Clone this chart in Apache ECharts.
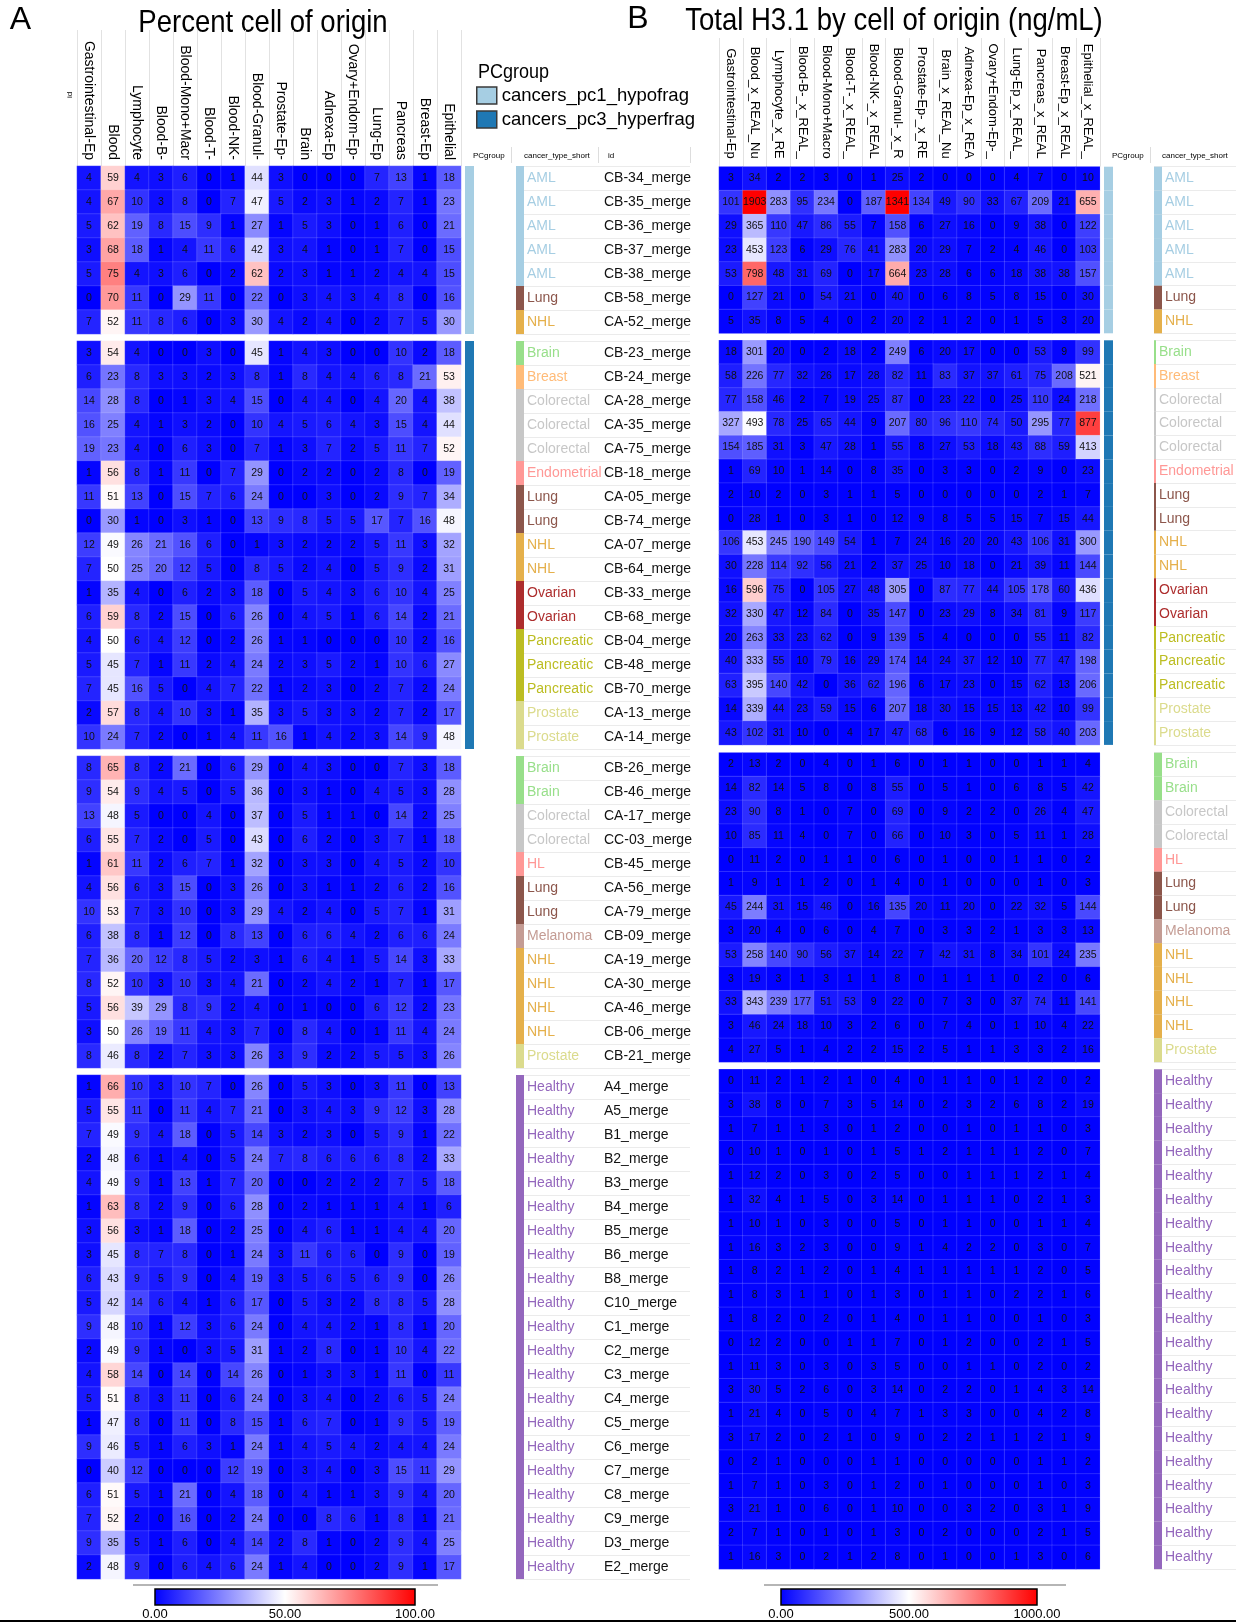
<!DOCTYPE html>
<html>
<head>
<meta charset="utf-8">
<title>Cell of origin heatmaps</title>
<script src="https://cdn.jsdelivr.net/npm/echarts/dist/echarts.min.js"></script>
<style>
  html, body { margin: 0; padding: 0; background: #ffffff; }
  #chart { width: 1236px; height: 1623px; }
</style>
</head>
<body>
<div id="chart"></div>
<script>
// ---------- column headers ----------
const pctColumns = ['Gastrointestinal-Ep', 'Blood', 'Lymphocyte', 'Blood-B-', 'Blood-Mono+Macr', 'Blood-T-',
  'Blood-NK-', 'Blood-Granul-', 'Prostate-Ep-', 'Brain', 'Adnexa-Ep', 'Ovary+Endom-Ep-', 'Lung-Ep',
  'Pancreas', 'Breast-Ep', 'Epithelial'];
const ngColumns = ['Gastrointestinal-Ep_', 'Blood_x_REAL_NuQ', 'Lymphocyte_x_REA', 'Blood-B-_x_REAL_I',
  'Blood-Mono+Macro', 'Blood-T-_x_REAL_N', 'Blood-NK-_x_REAL', 'Blood-Granul-_x_RE', 'Prostate-Ep-_x_REA',
  'Brain_x_REAL_NuQ', 'Adnexa-Ep_x_REAL', 'Ovary+Endom-Ep-_', 'Lung-Ep_x_REAL_N', 'Pancreas_x_REAL_',
  'Breast-Ep_x_REAL_', 'Epithelial_x_REAL_I'];

// ---------- sample ids and cancer types, one list per block ----------
const idsG1 = ['CB-34_merge', 'CB-35_merge', 'CB-36_merge', 'CB-37_merge', 'CB-38_merge', 'CB-58_merge', 'CA-52_merge'];
const typesG1 = ['AML', 'AML', 'AML', 'AML', 'AML', 'Lung', 'NHL'];

const idsG2 = ['CB-23_merge', 'CB-24_merge', 'CA-28_merge', 'CA-35_merge', 'CA-75_merge', 'CB-18_merge',
  'CA-05_merge', 'CB-74_merge', 'CA-07_merge', 'CB-64_merge', 'CB-33_merge', 'CB-68_merge', 'CB-04_merge',
  'CB-48_merge', 'CB-70_merge', 'CA-13_merge', 'CA-14_merge'];
const typesG2 = ['Brain', 'Breast', 'Colorectal', 'Colorectal', 'Colorectal', 'Endometrial', 'Lung', 'Lung',
  'NHL', 'NHL', 'Ovarian', 'Ovarian', 'Pancreatic', 'Pancreatic', 'Pancreatic', 'Prostate', 'Prostate'];

const idsG3 = ['CB-26_merge', 'CB-46_merge', 'CA-17_merge', 'CC-03_merge', 'CB-45_merge', 'CA-56_merge',
  'CA-79_merge', 'CB-09_merge', 'CA-19_merge', 'CA-30_merge', 'CA-46_merge', 'CB-06_merge', 'CB-21_merge'];
const typesG3 = ['Brain', 'Brain', 'Colorectal', 'Colorectal', 'HL', 'Lung', 'Lung', 'Melanoma', 'NHL', 'NHL',
  'NHL', 'NHL', 'Prostate'];

const idsG4 = ['A4_merge', 'A5_merge', 'B1_merge', 'B2_merge', 'B3_merge', 'B4_merge', 'B5_merge', 'B6_merge',
  'B8_merge', 'C10_merge', 'C1_merge', 'C2_merge', 'C3_merge', 'C4_merge', 'C5_merge', 'C6_merge', 'C7_merge',
  'C8_merge', 'C9_merge', 'D3_merge', 'E2_merge'];
const typesG4 = idsG4.map(() => 'Healthy');

// ---------- percent cell of origin ----------
const pctG1 = [
  [4, 59, 4, 3, 6, 0, 1, 44, 3, 0, 0, 0, 7, 13, 1, 18],
  [4, 67, 10, 3, 8, 0, 7, 47, 5, 2, 3, 1, 2, 7, 1, 23],
  [5, 62, 19, 8, 15, 9, 1, 27, 1, 5, 3, 0, 1, 6, 0, 21],
  [3, 68, 18, 1, 4, 11, 6, 42, 3, 4, 1, 0, 1, 7, 0, 15],
  [5, 75, 4, 3, 6, 0, 2, 62, 2, 3, 1, 1, 2, 4, 4, 15],
  [0, 70, 11, 0, 29, 11, 0, 22, 0, 3, 4, 3, 4, 8, 0, 16],
  [7, 52, 11, 8, 6, 0, 3, 30, 4, 2, 4, 0, 2, 7, 5, 30]
];
const pctG2 = [
  [3, 54, 4, 0, 0, 3, 0, 45, 1, 4, 3, 0, 0, 10, 2, 18],
  [6, 23, 8, 3, 3, 2, 3, 8, 1, 8, 4, 4, 6, 8, 21, 53],
  [14, 28, 8, 0, 1, 3, 4, 15, 0, 4, 4, 0, 4, 20, 4, 38],
  [16, 25, 4, 1, 3, 2, 0, 10, 4, 5, 6, 4, 3, 15, 4, 44],
  [19, 23, 4, 0, 6, 3, 0, 7, 1, 3, 7, 2, 5, 11, 7, 52],
  [1, 56, 8, 1, 11, 0, 7, 29, 0, 2, 2, 0, 2, 8, 0, 19],
  [11, 51, 13, 0, 15, 7, 6, 24, 0, 0, 3, 0, 2, 9, 7, 34],
  [0, 30, 1, 0, 3, 1, 0, 13, 9, 8, 5, 5, 17, 7, 16, 48],
  [12, 49, 26, 21, 16, 6, 0, 1, 3, 2, 2, 2, 5, 11, 3, 32],
  [7, 50, 25, 20, 12, 5, 0, 8, 5, 2, 4, 0, 5, 9, 2, 31],
  [1, 35, 4, 0, 6, 2, 3, 18, 0, 5, 4, 3, 6, 10, 4, 25],
  [6, 59, 8, 2, 15, 0, 6, 26, 0, 4, 5, 1, 6, 14, 2, 21],
  [4, 50, 6, 4, 12, 0, 2, 26, 1, 1, 0, 0, 0, 10, 2, 16],
  [5, 45, 7, 1, 11, 2, 4, 24, 2, 3, 5, 2, 1, 10, 6, 27],
  [7, 45, 16, 5, 0, 4, 7, 22, 1, 2, 3, 0, 2, 7, 2, 24],
  [2, 57, 8, 4, 10, 3, 1, 35, 3, 5, 3, 3, 2, 7, 2, 17],
  [10, 24, 7, 2, 0, 1, 4, 11, 16, 1, 4, 2, 3, 14, 9, 48]
];
const pctG3 = [
  [8, 65, 8, 2, 21, 0, 6, 29, 0, 4, 3, 0, 0, 7, 3, 18],
  [9, 54, 9, 4, 5, 0, 5, 36, 0, 3, 1, 0, 4, 5, 3, 28],
  [13, 48, 5, 0, 0, 4, 0, 37, 0, 5, 1, 1, 0, 14, 2, 25],
  [6, 55, 7, 2, 0, 5, 0, 43, 0, 6, 2, 0, 3, 7, 1, 18],
  [1, 61, 11, 2, 6, 7, 1, 32, 0, 3, 3, 0, 4, 5, 2, 10],
  [4, 56, 6, 3, 15, 0, 3, 26, 0, 3, 1, 1, 2, 6, 2, 16],
  [10, 53, 7, 3, 10, 0, 3, 29, 4, 2, 4, 0, 5, 7, 1, 31],
  [6, 38, 8, 1, 12, 0, 8, 13, 0, 6, 6, 4, 2, 6, 6, 24],
  [7, 36, 20, 12, 8, 5, 2, 3, 1, 6, 4, 1, 5, 14, 3, 33],
  [8, 52, 10, 3, 10, 3, 4, 21, 0, 2, 4, 2, 1, 7, 1, 17],
  [5, 56, 39, 29, 8, 9, 2, 4, 0, 1, 0, 0, 6, 12, 2, 23],
  [3, 50, 26, 19, 11, 4, 3, 7, 0, 8, 4, 0, 1, 11, 4, 24],
  [8, 46, 8, 2, 7, 3, 3, 26, 3, 9, 2, 2, 5, 5, 3, 26]
];
const pctG4 = [
  [1, 66, 10, 3, 10, 7, 0, 26, 0, 5, 3, 0, 3, 11, 0, 13],
  [5, 55, 11, 0, 11, 4, 7, 21, 0, 3, 4, 3, 9, 12, 3, 28],
  [7, 49, 9, 4, 18, 0, 5, 14, 3, 2, 3, 0, 5, 9, 1, 22],
  [2, 48, 6, 1, 4, 0, 5, 24, 7, 8, 6, 6, 6, 8, 2, 33],
  [4, 49, 9, 1, 13, 1, 7, 20, 0, 0, 2, 2, 2, 7, 5, 18],
  [1, 63, 8, 2, 9, 0, 6, 28, 0, 2, 1, 1, 1, 4, 1, 6],
  [3, 56, 3, 1, 18, 0, 2, 25, 0, 4, 6, 1, 1, 4, 4, 20],
  [3, 45, 8, 7, 8, 0, 1, 24, 3, 11, 6, 6, 0, 9, 0, 19],
  [6, 43, 9, 5, 9, 0, 4, 19, 3, 5, 6, 5, 6, 9, 0, 26],
  [5, 42, 14, 6, 4, 1, 6, 17, 0, 5, 3, 2, 8, 8, 5, 28],
  [9, 48, 10, 1, 12, 3, 6, 24, 0, 4, 4, 2, 1, 8, 1, 20],
  [2, 49, 9, 1, 0, 3, 5, 31, 1, 2, 8, 0, 1, 10, 4, 22],
  [4, 58, 14, 0, 14, 0, 14, 26, 0, 1, 3, 3, 1, 11, 0, 11],
  [5, 51, 8, 3, 11, 0, 6, 24, 0, 3, 4, 0, 2, 6, 5, 24],
  [1, 47, 8, 0, 11, 0, 8, 15, 1, 6, 7, 0, 1, 9, 5, 19],
  [9, 46, 5, 1, 6, 3, 1, 24, 1, 4, 5, 4, 2, 4, 4, 24],
  [0, 40, 12, 0, 0, 0, 12, 19, 0, 3, 4, 0, 3, 15, 11, 29],
  [6, 51, 5, 1, 21, 0, 4, 18, 0, 4, 1, 1, 3, 9, 4, 20],
  [7, 52, 2, 0, 16, 0, 2, 24, 0, 0, 8, 6, 1, 8, 1, 21],
  [9, 35, 5, 1, 6, 0, 4, 14, 2, 8, 1, 0, 2, 9, 4, 25],
  [2, 48, 9, 0, 6, 4, 6, 24, 1, 4, 0, 0, 2, 9, 1, 17]
];

// ---------- total H3.1 by cell of origin (ng/mL) ----------
const ngG1 = [
  [3, 34, 2, 2, 3, 0, 1, 25, 2, 0, 0, 0, 4, 7, 0, 10],
  [101, 1903, 283, 95, 234, 0, 187, 1341, 134, 49, 90, 33, 67, 209, 21, 655],
  [29, 365, 110, 47, 86, 55, 7, 158, 6, 27, 16, 0, 9, 38, 0, 122],
  [23, 453, 123, 6, 29, 76, 41, 283, 20, 29, 7, 2, 4, 46, 0, 103],
  [53, 798, 48, 31, 69, 0, 17, 664, 23, 28, 6, 6, 18, 38, 38, 157],
  [0, 127, 21, 0, 54, 21, 0, 40, 0, 6, 8, 5, 8, 15, 0, 30],
  [5, 35, 8, 5, 4, 0, 2, 20, 2, 1, 2, 0, 1, 5, 3, 20]
];
const ngG2 = [
  [18, 301, 20, 0, 2, 18, 2, 249, 6, 20, 17, 0, 0, 53, 9, 99],
  [58, 226, 77, 32, 26, 17, 28, 82, 11, 83, 37, 37, 61, 75, 208, 521],
  [77, 158, 46, 2, 7, 19, 25, 87, 0, 23, 22, 0, 25, 110, 24, 218],
  [327, 493, 78, 25, 65, 44, 9, 207, 80, 96, 110, 74, 50, 295, 77, 877],
  [154, 185, 31, 3, 47, 28, 1, 55, 8, 27, 53, 18, 43, 88, 59, 413],
  [1, 69, 10, 1, 14, 0, 8, 35, 0, 3, 3, 0, 2, 9, 0, 23],
  [2, 10, 2, 0, 3, 1, 1, 5, 0, 0, 0, 0, 0, 2, 1, 7],
  [0, 28, 1, 0, 3, 1, 0, 12, 9, 8, 5, 5, 15, 7, 15, 44],
  [106, 453, 245, 190, 149, 54, 1, 7, 24, 16, 20, 20, 43, 106, 31, 300],
  [30, 228, 114, 92, 56, 21, 2, 37, 25, 10, 18, 0, 21, 39, 11, 144],
  [16, 596, 75, 0, 105, 27, 48, 305, 0, 87, 77, 44, 105, 178, 60, 436],
  [32, 330, 47, 12, 84, 0, 35, 147, 0, 23, 29, 8, 34, 81, 9, 117],
  [20, 263, 33, 23, 62, 0, 9, 139, 5, 4, 0, 0, 0, 55, 11, 82],
  [40, 333, 55, 10, 79, 16, 29, 174, 14, 24, 37, 12, 10, 77, 47, 198],
  [63, 395, 140, 42, 0, 36, 62, 196, 6, 17, 23, 0, 15, 62, 13, 206],
  [14, 339, 44, 23, 59, 15, 6, 207, 18, 30, 15, 15, 13, 42, 10, 99],
  [43, 102, 31, 10, 0, 4, 17, 47, 68, 6, 16, 9, 12, 58, 40, 203]
];
const ngG3 = [
  [2, 13, 2, 0, 4, 0, 1, 6, 0, 1, 1, 0, 0, 1, 1, 4],
  [14, 82, 14, 5, 8, 0, 8, 55, 0, 5, 1, 0, 6, 8, 5, 42],
  [23, 90, 8, 1, 0, 7, 0, 69, 0, 9, 2, 2, 0, 26, 4, 47],
  [10, 85, 11, 4, 0, 7, 0, 66, 0, 10, 3, 0, 5, 11, 1, 28],
  [0, 11, 2, 0, 1, 1, 0, 6, 0, 1, 0, 0, 1, 1, 0, 2],
  [1, 9, 1, 1, 2, 0, 1, 4, 0, 1, 0, 0, 0, 1, 0, 3],
  [45, 244, 31, 15, 46, 0, 16, 135, 20, 11, 20, 0, 22, 32, 5, 144],
  [3, 20, 4, 0, 6, 0, 4, 7, 0, 3, 3, 2, 1, 3, 3, 13],
  [53, 258, 140, 90, 56, 37, 14, 22, 7, 42, 31, 8, 34, 101, 24, 235],
  [3, 19, 3, 1, 3, 1, 1, 8, 0, 1, 1, 1, 0, 2, 0, 6],
  [33, 343, 239, 177, 51, 53, 9, 22, 0, 7, 3, 0, 37, 74, 11, 141],
  [3, 46, 24, 18, 10, 3, 2, 6, 0, 7, 4, 0, 1, 10, 4, 22],
  [4, 27, 5, 1, 4, 2, 2, 15, 2, 5, 1, 1, 3, 3, 2, 16]
];
const ngG4 = [
  [0, 11, 2, 1, 2, 1, 0, 4, 0, 1, 1, 0, 1, 2, 0, 2],
  [3, 38, 8, 0, 7, 3, 5, 14, 0, 2, 3, 2, 6, 8, 2, 19],
  [1, 7, 1, 1, 3, 0, 1, 2, 0, 0, 1, 0, 1, 1, 0, 3],
  [0, 10, 1, 0, 1, 0, 1, 5, 1, 2, 1, 1, 1, 2, 0, 7],
  [1, 12, 2, 0, 3, 0, 2, 5, 0, 0, 1, 1, 1, 2, 1, 4],
  [1, 32, 4, 1, 5, 0, 3, 14, 0, 1, 1, 1, 0, 2, 1, 3],
  [1, 10, 1, 0, 3, 0, 0, 5, 0, 1, 1, 0, 0, 1, 1, 4],
  [1, 16, 3, 2, 3, 0, 0, 9, 1, 4, 2, 2, 0, 3, 0, 7],
  [1, 8, 2, 1, 2, 0, 1, 4, 1, 1, 1, 1, 1, 2, 0, 5],
  [1, 8, 3, 1, 1, 0, 1, 3, 0, 1, 1, 0, 2, 2, 1, 6],
  [1, 8, 2, 0, 2, 0, 1, 4, 0, 1, 1, 0, 0, 1, 0, 3],
  [0, 12, 2, 0, 0, 1, 1, 7, 0, 1, 2, 0, 0, 2, 1, 5],
  [1, 11, 3, 0, 3, 0, 3, 5, 0, 0, 1, 1, 0, 2, 0, 2],
  [3, 30, 5, 2, 6, 0, 3, 14, 0, 2, 2, 0, 1, 4, 3, 14],
  [1, 21, 4, 0, 5, 0, 4, 7, 1, 3, 3, 0, 0, 4, 2, 8],
  [3, 17, 2, 0, 2, 1, 0, 9, 0, 2, 2, 1, 1, 2, 1, 9],
  [0, 2, 1, 0, 0, 0, 1, 1, 0, 0, 0, 0, 0, 1, 1, 2],
  [1, 7, 1, 0, 3, 0, 1, 2, 0, 1, 0, 0, 0, 1, 0, 3],
  [3, 21, 1, 0, 6, 0, 1, 10, 0, 0, 3, 2, 0, 3, 1, 9],
  [2, 7, 1, 0, 1, 0, 1, 3, 0, 2, 0, 0, 0, 2, 1, 5],
  [1, 16, 3, 0, 2, 1, 2, 8, 0, 1, 0, 0, 1, 3, 0, 6]
];

// ---------- annotation groups, colours and colour-bar ticks ----------
const pcGroupNames = ['cancers_pc1_hypofrag', 'cancers_pc3_hyperfrag'];
const pcGroupColors = ['#a6cee3', '#1f78b4'];
const typeNames = ['AML', 'Brain', 'Breast', 'Colorectal', 'Endometrial', 'HL', 'Lung', 'Melanoma', 'NHL',
  'Ovarian', 'Pancreatic', 'Prostate', 'Healthy'];
const typeColorList = ['#a6cee3', '#98df8a', '#ffbb78', '#c7c7c7', '#ff9896', '#ff9896', '#8c564b', '#c49c94',
  '#e5b04b', '#ad2d2d', '#bcbd22', '#dbdb8d', '#9467bd'];
const pctTicks = [0, 50, 100];
const ngTicks = [0, 500, 1000];
const heatColors = ['#0000ff', '#ffffff', '#ff0000'];

// ---------- layout ----------
const FONT = '"Liberation Sans", Arial, Helvetica, sans-serif';
const typeColor = {};
typeNames.forEach((t, i) => { typeColor[t] = typeColorList[i]; });

const blocks = [
  { ids: idsG1, types: typesG1, pct: pctG1, ng: ngG1, pc: 0 },
  { ids: idsG2, types: typesG2, pct: pctG2, ng: ngG2, pc: 1 },
  { ids: idsG3, types: typesG3, pct: pctG3, ng: ngG3, pc: -1 },
  { ids: idsG4, types: typesG4, pct: pctG4, ng: ngG4, pc: -1 }
];

const panels = [
  { key: 'pct', cols: pctColumns, ticks: pctTicks, left: 77, cellW: 24, cellH: 24,
    tops: [166, 341, 756, 1075], headerTop: 30, headFont: 14, headWidth: 140, headMargin: 6,
    pcLeft: 465, ctLeft: 516, ruleW: 174, idLeft: 603, barLeft: 155, barW: 260 },
  { key: 'ng', cols: ngColumns, ticks: ngTicks, left: 719, cellW: 23.8, cellH: 23.8,
    tops: [166.7, 340.3, 752.7, 1069.3], headerTop: 38, headFont: 13, headWidth: 117, headMargin: 8,
    pcLeft: 1104, ctLeft: 1154, ruleW: 82, idLeft: null, barLeft: 781, barW: 256 }
];

const grid = [], xAxis = [], yAxis = [], series = [];
const heatSeries = [[], []];

function addGrid(g) { grid.push(g); return grid.length - 1; }
const hidden = { show: false };

panels.forEach((P, pi) => {
  const W = P.cols.length * P.cellW;

  // thin separators between the column headers
  const hg = addGrid({ left: P.left, top: P.headerTop, width: W, height: P.tops[0] - P.headerTop });
  xAxis.push({ gridIndex: hg, type: 'category', data: P.cols, axisLine: hidden, axisTick: hidden,
    axisLabel: hidden, splitLine: { show: true, interval: 0, lineStyle: { color: '#e2e2e2', width: 1 } } });
  yAxis.push({ gridIndex: hg, type: 'category', data: ['h'], show: false });

  blocks.forEach((B, bi) => {
    const n = B.ids.length;
    const top = P.tops[bi];
    const h = n * P.cellH;

    // value heatmap
    const g = addGrid({ left: P.left, top: top, width: W, height: h });
    xAxis.push({ gridIndex: g, type: 'category', position: 'top', data: P.cols,
      axisLine: hidden, axisTick: hidden, splitLine: hidden,
      axisLabel: { show: bi === 0, rotate: 90, interval: 0, fontSize: P.headFont, color: '#000',
        fontFamily: FONT, margin: P.headMargin, width: P.headWidth, overflow: 'truncate', ellipsis: '' } });
    yAxis.push({ gridIndex: g, type: 'category', data: B.ids, inverse: true, show: false });
    const data = [];
    B[P.key].forEach((row, r) => row.forEach((v, c) => data.push([c, r, v])));
    series.push({
      type: 'heatmap', name: P.key + '_' + bi,
      xAxisIndex: xAxis.length - 1, yAxisIndex: yAxis.length - 1,
      data: data,
      itemStyle: { borderColor: 'rgba(255,255,255,0.14)', borderWidth: 1 },
      label: { show: true, fontSize: 10.5, color: '#111', fontFamily: FONT, formatter: p => String(p.value[2]) },
      emphasis: { disabled: true }, silent: true
    });
    heatSeries[pi].push(series.length - 1);

    // PCgroup bar
    if (B.pc >= 0) {
      const pg = addGrid({ left: P.pcLeft, top: top, width: 9, height: h });
      xAxis.push({ gridIndex: pg, type: 'value', min: 0, max: 1, show: false });
      yAxis.push({ gridIndex: pg, type: 'category', data: B.ids, inverse: true, show: false });
      series.push({
        type: 'bar', name: pcGroupNames[B.pc], xAxisIndex: xAxis.length - 1, yAxisIndex: yAxis.length - 1,
        data: B.ids.map(() => 1), barWidth: '100%', barCategoryGap: '0%',
        itemStyle: { color: pcGroupColors[B.pc] }, silent: true
      });
    }

    // light row rules behind the label columns
    const rg = addGrid({ left: P.ctLeft, top: top, width: P.ruleW, height: h });
    xAxis.push({ gridIndex: rg, type: 'value', min: 0, max: 1, show: false });
    yAxis.push({ gridIndex: rg, type: 'category', data: B.ids, inverse: true,
      axisLine: hidden, axisTick: hidden, axisLabel: hidden,
      splitLine: { show: true, interval: 0, lineStyle: { color: '#ebebeb', width: 1 } } });

    // cancer type bar with coloured labels
    const cg = addGrid({ left: P.ctLeft, top: top, width: 8, height: h });
    xAxis.push({ gridIndex: cg, type: 'value', min: 0, max: 1, show: false });
    yAxis.push({ gridIndex: cg, type: 'category', data: B.ids, inverse: true, position: 'right',
      axisLine: hidden, axisTick: hidden, splitLine: hidden,
      axisLabel: { interval: 0, margin: 3, fontSize: 14, fontFamily: FONT,
        formatter: (v, i) => B.types[i], color: (v, i) => typeColor[B.types[i]] } });
    series.push({
      type: 'bar', name: 'cancer_type_' + P.key + '_' + bi,
      xAxisIndex: xAxis.length - 1, yAxisIndex: yAxis.length - 1,
      data: B.types.map(t => ({ value: 1, itemStyle: { color: typeColor[t] } })),
      barWidth: '100%', barCategoryGap: '0%', silent: true
    });

    // sample ids
    if (P.idLeft !== null) {
      const ig = addGrid({ left: P.idLeft - 1, top: top, width: 1, height: h });
      xAxis.push({ gridIndex: ig, type: 'value', min: 0, max: 1, show: false });
      yAxis.push({ gridIndex: ig, type: 'category', data: B.ids, inverse: true, position: 'right',
        axisLine: hidden, axisTick: hidden, splitLine: hidden,
        axisLabel: { interval: 0, margin: 1, fontSize: 14, color: '#111', fontFamily: FONT } });
    }
  });

  // colour bar with its tick labels
  const lo = P.ticks[0], hi = P.ticks[P.ticks.length - 1];
  const lg = addGrid({ left: P.barLeft, top: 1589, width: P.barW, height: 16, show: true,
    borderColor: '#000', borderWidth: 1.5,
    backgroundColor: new echarts.graphic.LinearGradient(0, 0, 1, 0, heatColors.map((c, i) => ({
      offset: i / (heatColors.length - 1), color: c }))) });
  xAxis.push({ gridIndex: lg, type: 'value', min: lo, max: hi, interval: P.ticks[1] - P.ticks[0],
    axisLine: hidden, axisTick: hidden, splitLine: hidden,
    axisLabel: { fontSize: 13, margin: 3, color: '#000', fontFamily: FONT, formatter: v => v.toFixed(2) } });
  yAxis.push({ gridIndex: lg, type: 'value', min: 0, max: 1, show: false });
});

const chart = echarts.init(document.getElementById('chart'), null, { renderer: 'canvas' });

const textEl = (text, x, y, size, opts) => Object.assign({
  type: 'text', x: x, y: y, silent: true,
  style: Object.assign({ text: text, fontSize: size, fontFamily: FONT, fill: '#000',
    align: 'left', verticalAlign: 'middle' }, (opts && opts.style) || {})
}, (opts && opts.el) || {});

chart.setOption({
  animation: false,
  backgroundColor: '#ffffff',
  grid: grid,
  xAxis: xAxis,
  yAxis: yAxis,
  series: series,
  visualMap: panels.map((P, pi) => ({
    type: 'continuous', show: false, seriesIndex: heatSeries[pi], dimension: 2,
    min: P.ticks[0], max: P.ticks[P.ticks.length - 1], inRange: { color: heatColors }
  })),
  legend: {
    data: pcGroupNames, orient: 'vertical', left: 476, top: 86, padding: 0, icon: 'rect',
    itemWidth: 20, itemHeight: 17, itemGap: 5, selectedMode: false,
    itemStyle: { borderColor: '#3a3a3a', borderWidth: 1.5 },
    textStyle: { fontSize: 18.5, color: '#000', fontFamily: FONT }
  },
  graphic: [
    textEl('A', 20.5, 20, 32, { style: { align: 'center' } }),
    textEl('B', 638, 19, 32, { style: { align: 'center' } }),
    textEl('Percent cell of origin', 263, 23, 32, { style: { align: 'center' }, el: { scaleX: 0.86 } }),
    textEl('Total H3.1 by cell of origin (ng/mL)', 894, 21, 32, { style: { align: 'center' }, el: { scaleX: 0.86 } }),
    textEl('PCgroup', 478, 72, 20, { el: { scaleX: 0.9 } }),
    textEl('id', 70, 95, 8, { style: { align: 'center' }, el: { rotation: Math.PI / 2 } }),
    textEl('PCgroup', 473, 156, 8),
    textEl('cancer_type_short', 524, 156, 8),
    textEl('id', 608, 156, 8),
    textEl('PCgroup', 1112, 156, 8),
    textEl('cancer_type_short', 1162, 156, 8),
    // header dividers of the annotation columns
    { type: 'rect', silent: true, shape: { x: 511, y: 147, width: 1, height: 16 }, style: { fill: '#dddddd' } },
    { type: 'rect', silent: true, shape: { x: 598, y: 147, width: 1, height: 16 }, style: { fill: '#dddddd' } },
    { type: 'rect', silent: true, shape: { x: 690, y: 147, width: 1, height: 16 }, style: { fill: '#dddddd' } },
    { type: 'rect', silent: true, shape: { x: 1150, y: 147, width: 1, height: 16 }, style: { fill: '#dddddd' } },
    // rules above the colour bars and the bottom frame line
    { type: 'rect', silent: true, shape: { x: 133, y: 1584, width: 305, height: 2 }, style: { fill: '#b5b5b5' } },
    { type: 'rect', silent: true, shape: { x: 764, y: 1584, width: 302, height: 2 }, style: { fill: '#b5b5b5' } },
    { type: 'rect', silent: true, shape: { x: 0, y: 1620, width: 1236, height: 2 }, style: { fill: '#000' } }
  ]
});
</script>
</body>
</html>
